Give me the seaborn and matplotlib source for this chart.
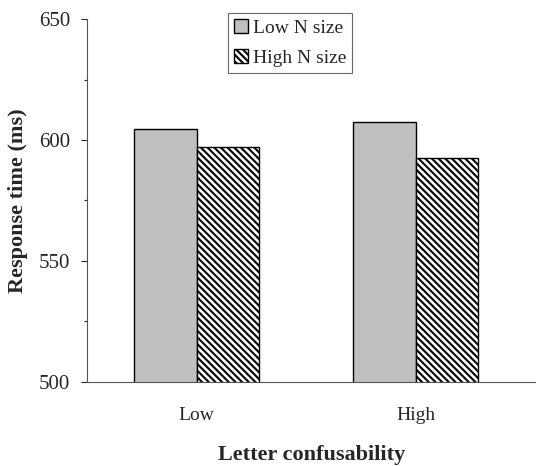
import numpy as np
import pandas as pd
import matplotlib
matplotlib.use('Agg')
import matplotlib.pyplot as plt
from matplotlib.ticker import MultipleLocator
import seaborn as sns

# Data
confusability = ['Low', 'High']
n_size = ['Low N size', 'High N size']
low_n_rt = [604.4, 607.3]
high_n_rt = [597.1, 592.6]

df = pd.DataFrame({
    'Letter confusability': confusability * 2,
    'N size': [n_size[0]] * 2 + [n_size[1]] * 2,
    'RT': low_n_rt + high_n_rt,
})

HATCH = '\\' * 5

sns.set_style('white')
plt.rcParams['font.family'] = ['Liberation Serif', 'DejaVu Serif']
plt.rcParams['hatch.linewidth'] = 1.5

fig = plt.figure(figsize=(5.36, 4.66), dpi=100)
ax = fig.add_axes([0.1623, 0.1803, 0.8377, 0.7789])

sns.barplot(data=df, x='Letter confusability', y='RT', hue='N size',
            order=confusability, hue_order=n_size,
            palette=['#c0c0c0', 'white'], width=0.57, gap=0,
            edgecolor='black', linewidth=1.0, ax=ax)

# second series: diagonal hatch
for bar in ax.containers[1]:
    bar.set_hatch(HATCH)

ax.set_ylim(500, 650)
ax.set_xlim(-0.5, 1.55)
ax.yaxis.set_major_locator(MultipleLocator(50))
ax.yaxis.set_minor_locator(MultipleLocator(25))
ax.tick_params(axis='y', which='major', direction='out', length=4, width=0.8,
               left=True, labelsize=15, pad=8)
ax.tick_params(axis='y', which='minor', direction='out', length=2, width=0.8, left=True)
ax.tick_params(axis='x', length=0, labelsize=14, pad=18)

for side in ['top', 'right']:
    ax.spines[side].set_visible(False)
for side in ['left', 'bottom']:
    ax.spines[side].set_color('#555555')
    ax.spines[side].set_linewidth(0.8)

ax.set_ylabel('Response time (ms)', fontsize=16, fontweight='bold', labelpad=8)
ax.set_xlabel('Letter confusability', fontsize=16, fontweight='bold', labelpad=15)

leg = ax.legend(loc='upper center', bbox_to_anchor=(0.452, 1.017), fontsize=14,
                frameon=True, fancybox=False, handlelength=0.75, handleheight=0.75,
                handletextpad=0.25, borderpad=0.3, labelspacing=0.65, borderaxespad=0)
leg.get_frame().set_edgecolor('#444444')
leg.get_frame().set_linewidth(0.8)
for h in leg.legend_handles:
    h.set_edgecolor('black')
leg.legend_handles[1].set_hatch(HATCH)

fig.savefig('out.png', dpi=100)
